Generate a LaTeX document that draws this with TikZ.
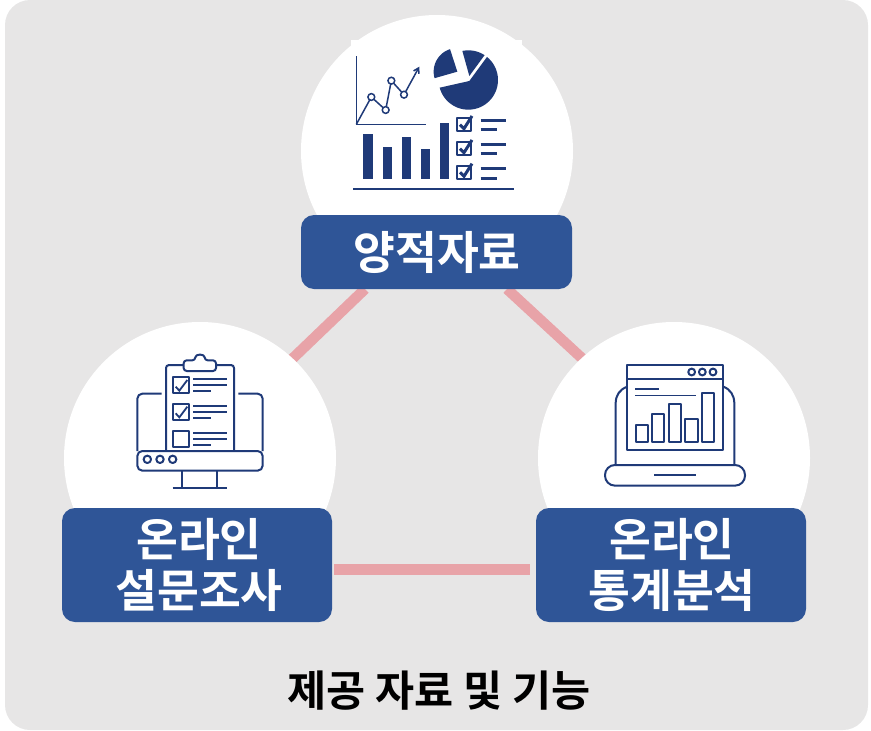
\documentclass[tikz,border=0pt]{standalone}
\usepackage{fontspec}
\usetikzlibrary{arrows.meta}
\setmainfont{Noto Sans CJK KR}[BoldFont={Noto Sans CJK KR Bold}]
\definecolor{panelgray}{HTML}{E7E6E6}
\definecolor{boxblue}{HTML}{2F5597}
\definecolor{linkpink}{HTML}{E8A3A8}
\definecolor{iconblue}{HTML}{1F3A78}
\tikzset{
  halo/.style={circle,fill=white,minimum size=272pt,inner sep=0pt},
  labelbox/.style={fill=boxblue,rounded corners=13pt,inner sep=0pt,text=white,align=center,
    font=\fontsize{45.5}{52}\selectfont\bfseries},
  link/.style={draw=linkpink,line width=10.5pt},
  icon/.style={draw=iconblue,line width=2pt,line join=round,fill=none},
  thin icon/.style={draw=iconblue,line width=1.5pt},
  zoomed/.style={x=0.33333pt,y=-0.33333pt}
}
\begin{document}
\begin{tikzpicture}[x=1pt,y=-1pt]
\useasboundingbox (0,0) rectangle (871,731);
\fill[panelgray,rounded corners=25pt] (5,0) rectangle (868,730);
% connector ends
\coordinate (tl) at (365,289);
\coordinate (lt) at (290,361);
\coordinate (tr) at (507,289);
\coordinate (rt) at (585,361);
\coordinate (lr) at (334,569.5);
\coordinate (rl) at (530,569.5);
\draw[link] (tl) -- (lt);
\draw[link] (tr) -- (rt);
\draw[link] (lr) -- (rl);
% white discs
\node[halo] (discT) at (437,151) {};
\fill[white] (351,40) rectangle (522,120);
\node[halo] (discL) at (200,458) {};
\node[halo] (discR) at (674,458) {};
% label boxes
\node[fill=boxblue,rounded corners=13pt,minimum width=271pt,minimum height=74pt] (boxT) at (436.5,252) {};
\node[fill=boxblue,rounded corners=13pt,minimum width=270pt,minimum height=114pt] (boxL) at (197,565) {};
\node[fill=boxblue,rounded corners=13pt,minimum width=270pt,minimum height=114pt] (boxR) at (671,565) {};
\node[labelbox] (textT) at (437,252) {양적자료};
\node[labelbox] (textL) at (199,565) {\raisebox{-1.5pt}{온라인}\\설문조사};
\node[labelbox] (textR) at (672,565) {\raisebox{-1.5pt}{온라인}\\통계분석};
\node[font=\fontsize{42.5}{46}\selectfont\bfseries,text=black,inner sep=0pt] (title) at (439,691) {제공 자료 및 기능};
% icon: quantitative data
\begin{scope}[shift={(340,30)},zoomed]
  \draw[thin icon] (49,78) -- (49,283) -- (258,283);
  \draw[thin icon,-{Straight Barb[length=5pt,width=6pt]}] (49,283) -- (94,201) -- (137,240) -- (154,152) -- (192,194) -- (238,110);
  \foreach \cx/\cy in {94/201,137/240,154/152,192/194}
    \draw[thin icon,fill=white] (\cx,\cy) circle[radius=3.4pt];
  \fill[iconblue] (388,153) -- plot[domain=-51:165,samples=50] ({385+89*cos(\x)},{150+89*sin(\x)}) -- cycle;
  \fill[iconblue] (388,138) -- plot[domain=-101.6:-56.8,samples=20] ({385+89*cos(\x)},{150+89*sin(\x)}) -- cycle;
  \fill[iconblue] (352,125) -- plot[domain=164:252,samples=25] ({352+71*cos(\x)},{125+71*sin(\x)}) -- cycle;
  \foreach \xa/\xb/\ya in {70/99/313,128/156/352,185/213/322,243/271/356,300/328/279}
    \fill[iconblue] (\xa,\ya) rectangle (\xb,447);
  \draw[iconblue,line width=2.2pt] (40,476) -- (522,476);
  \foreach \yy/\la/\lb in {265/271/298,337/344/371,408/416/444}{
    \draw[icon] (350,\yy) rectangle (392,\yy+39);
    \draw[iconblue,line width=3pt] (360,\yy+19) -- (372,\yy+31) -- (396,\yy-7);
    \draw[iconblue,line width=3pt] (422,\la) -- (498,\la);
    \draw[iconblue,line width=3pt] (422,\lb) -- (472,\lb);
  }
\end{scope}
% icon: online survey
\begin{scope}[shift={(120,345)},zoomed]
  \draw[icon,rounded corners=3pt] (138,318) -- (138,60) -- (342,60) -- (342,318);
  \draw[icon,fill=white,rounded corners=3pt] (191,46) -- (226,46) .. controls (226,26) and (254,26) .. (254,46) -- (288,46) -- (288,78) -- (191,78) -- cycle;
  \foreach \yy/\la/\lb/\lc in {97/102/120/138,177/183/201/218,258/264/282/299}{
    \draw[icon] (159,\yy) rectangle (207,\yy+48);
    \draw[iconblue,line width=2pt] (220,\la) -- (320,\la);
    \draw[iconblue,line width=2pt] (220,\lb) -- (320,\lb);
    \draw[iconblue,line width=2pt] (220,\lc) -- (272,\lc);
  }
  \draw[iconblue,line width=1.8pt] (167,125) -- (178,137) -- (202,105);
  \draw[iconblue,line width=1.8pt] (167,205) -- (178,217) -- (202,185);
  \draw[icon,rounded corners=5pt] (125,146) -- (52,146) -- (52,318);
  \draw[icon,rounded corners=5pt] (355,146) -- (428,146) -- (428,318);
  \draw[icon,rounded corners=5pt] (52,318) -- (52,377) -- (428,377) -- (428,318) -- cycle;
  \foreach \cx in {82,120,158}
    \draw[icon] (\cx,343) circle[radius=3.7pt];
  \draw[icon] (187,377) -- (187,430);
  \draw[icon] (290,377) -- (290,430);
  \draw[icon] (158,430) -- (322,430);
\end{scope}
% icon: online statistics
\begin{scope}[shift={(595,350)},zoomed]
  \draw[icon] (97,44) rectangle (385,300);
  \draw[icon] (97,86) -- (385,86);
  \foreach \cx in {290,322,354}
    \draw[icon] (\cx,66) circle[radius=3.4pt];
  \draw[iconblue,line width=2pt] (120,116) -- (191,116);
  \draw[iconblue,line width=1.6pt] (120,136) -- (302,136);
  \foreach \xa/\xb/\ya in {122/158/226,171/208/192,221/258/163,271/308/208,321/358/130}
    \draw[icon] (\xa,\ya) rectangle (\xb,276);
  \draw[icon] (97,110) .. controls (74,118) and (62,136) .. (62,160) -- (62,345);
  \draw[icon] (385,110) .. controls (406,118) and (418,136) .. (418,160) -- (418,345);
  \draw[icon,rounded corners=10pt] (30,345) rectangle (450,407);
  \draw[iconblue,line width=2pt] (177,376) -- (302,376);
\end{scope}
\end{tikzpicture}
\end{document}
